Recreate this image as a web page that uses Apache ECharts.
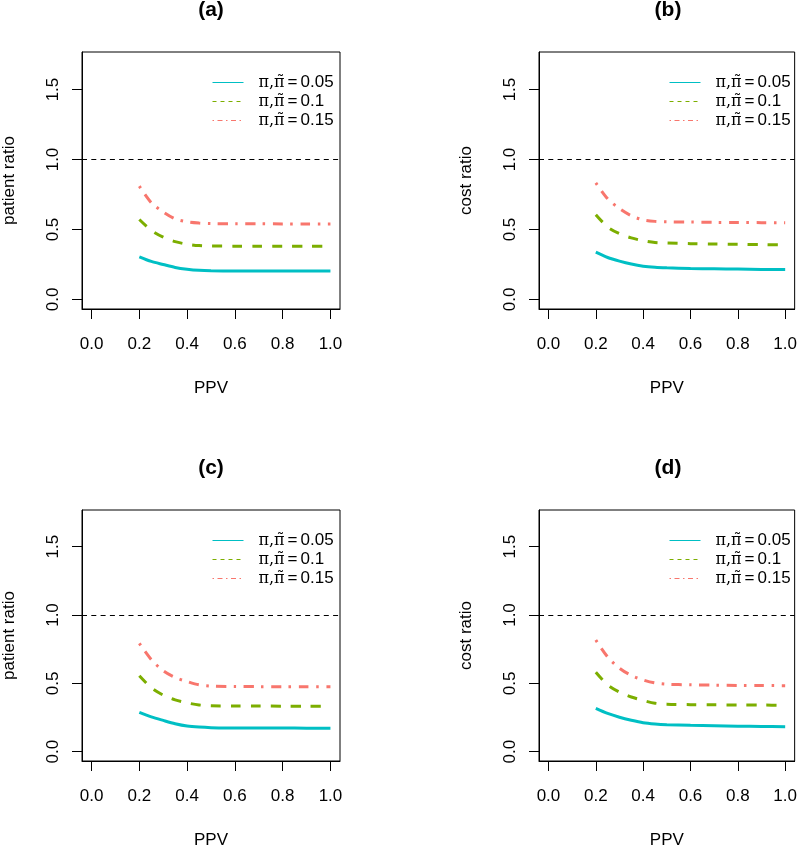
<!DOCTYPE html>
<html>
<head>
<meta charset="utf-8">
<script src="https://cdn.jsdelivr.net/npm/echarts@6/dist/echarts.min.js"></script>
<style>html,body{margin:0;padding:0;background:#fff;}#chart{width:800px;height:850px;}</style>
</head>
<body>
<div id="chart"></div>
<script>
// ---- data ----
const ppv = [0.2, 0.25, 0.3, 0.35, 0.4, 0.45, 0.5, 0.6, 0.7, 0.8, 0.9, 1.0];
const piLabels = ['0.05', '0.1', '0.15'];
const panelTitles = ['(a)', '(b)', '(c)', '(d)'];
const yNames = ['patient ratio', 'cost ratio', 'patient ratio', 'cost ratio'];
const xTicks = [0, 0.2, 0.4, 0.6, 0.8, 1.0];
const yTicks = [0, 0.5, 1.0, 1.5];
const refLine = 1.0;

const a005 = [0.305, 0.272, 0.25, 0.229, 0.216, 0.208, 0.205, 0.204, 0.204, 0.203, 0.203, 0.203];
const a010 = [0.571, 0.494, 0.445, 0.413, 0.395, 0.385, 0.382, 0.381, 0.381, 0.381, 0.381, 0.381];
const a015 = [0.81, 0.692, 0.625, 0.576, 0.555, 0.546, 0.542, 0.541, 0.541, 0.54, 0.54, 0.54];

const b005 = [0.338, 0.3, 0.274, 0.253, 0.238, 0.23, 0.226, 0.221, 0.219, 0.217, 0.215, 0.214];
const b010 = [0.605, 0.518, 0.47, 0.44, 0.42, 0.407, 0.403, 0.399, 0.396, 0.394, 0.392, 0.39];
const b015 = [0.833, 0.72, 0.649, 0.598, 0.569, 0.558, 0.555, 0.553, 0.551, 0.55, 0.549, 0.548];

const c005 = [0.288, 0.255, 0.229, 0.205, 0.188, 0.18, 0.176, 0.174, 0.173, 0.173, 0.172, 0.172];
const c010 = [0.555, 0.468, 0.414, 0.379, 0.357, 0.342, 0.336, 0.334, 0.334, 0.333, 0.333, 0.333];
const c015 = [0.793, 0.674, 0.593, 0.543, 0.513, 0.489, 0.48, 0.477, 0.476, 0.476, 0.476, 0.476];

const d005 = [0.317, 0.28, 0.252, 0.23, 0.212, 0.203, 0.198, 0.193, 0.19, 0.187, 0.185, 0.183];
const d010 = [0.581, 0.489, 0.436, 0.4, 0.375, 0.355, 0.348, 0.344, 0.343, 0.342, 0.341, 0.34];
const d015 = [0.817, 0.693, 0.611, 0.558, 0.525, 0.503, 0.494, 0.489, 0.487, 0.485, 0.484, 0.483];

const panels = [[a005, a010, a015], [b005, b010, b015], [c005, c010, c015], [d005, d010, d015]];

// ---- styles ----
const colors = ['#00BFC4', '#7CAE00', '#F8766D'];
const seriesDash = ['solid', [10, 10], [2.5, 7.5, 10, 7.5]];
const legendDash = ['solid', [4, 4], [1.5, 3.5, 5, 3.5]];
const FONT = 'Liberation Sans';
const gridPos = [
  {left: 82, top: 52}, {left: 539, top: 52},
  {left: 82, top: 510}, {left: 539, top: 510}
];
const GW = 258, GH = 257;

const names = piLabels.map(v => 'π,π̃ = ' + v);

const grid = [], xAxis = [], yAxis = [], series = [], legend = [], title = [];
panels.forEach((p, i) => {
  const g = gridPos[i];
  grid.push({left: g.left, top: g.top, width: GW, height: GH, show: true,
    borderColor: '#000', borderWidth: 1, backgroundColor: 'transparent', containLabel: false});
  xAxis.push({
    type: 'value', gridIndex: i, min: -0.04, max: 1.04,
    name: 'PPV', nameLocation: 'middle', nameGap: 71,
    nameTextStyle: {fontFamily: FONT, fontSize: 17, color: '#000'},
    axisLine: {show: true, onZero: false, lineStyle: {color: '#000', width: 1}},
    axisTick: {show: true, inside: false, length: 10, customValues: xTicks, lineStyle: {color: '#000'}},
    axisLabel: {show: true, customValues: xTicks, margin: 27, fontFamily: FONT, fontSize: 17, color: '#000',
      formatter: v => v.toFixed(1)},
    splitLine: {show: false}
  });
  yAxis.push({
    type: 'value', gridIndex: i, min: -0.068, max: 1.768,
    name: yNames[i], nameLocation: 'middle', nameGap: 64,
    nameTextStyle: {fontFamily: FONT, fontSize: 17, color: '#000'},
    axisLine: {show: true, onZero: false, lineStyle: {color: '#000', width: 1}},
    axisTick: {show: true, inside: false, length: 10, customValues: yTicks, lineStyle: {color: '#000'}},
    axisLabel: {show: true, customValues: yTicks, rotate: 90, margin: 20, fontFamily: FONT, fontSize: 17, color: '#000',
      formatter: v => v.toFixed(1)},
    splitLine: {show: false}
  });
  p.forEach((vals, k) => {
    const s = {
      type: 'line', name: names[k], xAxisIndex: i, yAxisIndex: i,
      data: ppv.map((x, j) => [x, vals[j]]),
      symbol: 'none', showSymbol: false, smooth: 0.3,
      lineStyle: {color: colors[k], width: 3, type: seriesDash[k], cap: 'butt'},
      itemStyle: {color: colors[k]},
      emphasis: {disabled: true}, silent: true
    };
    if (k === 0) {
      s.markLine = {
        silent: true, symbol: ['none', 'none'], label: {show: false},
        lineStyle: {color: '#000', width: 1, type: [5, 4.3]},
        data: [{yAxis: refLine}]
      };
    }
    series.push(s);
  });
  legend.push({
    orient: 'vertical', left: g.left + 130, top: g.top + 22, padding: 0,
    itemWidth: 31, itemHeight: 10, itemGap: 2, selectedMode: false,
    itemStyle: {opacity: 0},
    formatter: name => {
      const val = name.split(' = ')[1];
      return '{p|π,π̃}{e|=}{n|' + val + '}';
    },
    textStyle: {
      fontFamily: FONT, fontSize: 17, color: '#000', lineHeight: 17,
      rich: {
        p: {fontFamily: 'DejaVu Serif', fontSize: 16, color: '#000', padding: [0, 0, 0, 10], lineHeight: 17},
        e: {fontFamily: FONT, fontSize: 17, color: '#000', lineHeight: 17, padding: [0, 3, 0, 3]},
        n: {fontFamily: FONT, fontSize: 17, color: '#000', lineHeight: 17}
      }
    },
    data: names.map((n, k) => ({name: n, itemStyle: {opacity: 0},
      lineStyle: {width: 1, type: legendDash[k], color: colors[k], opacity: 1}}))
  });
  title.push({
    text: panelTitles[i], left: g.left + GW / 2, top: g.top - 52, textAlign: 'center', padding: 0,
    textStyle: {fontFamily: FONT, fontSize: 21, fontWeight: 'bold', color: '#000'}
  });
});

const chart = echarts.init(document.getElementById('chart'), null, {renderer: 'canvas'});
chart.setOption({
  animation: false,
  backgroundColor: '#fff',
  title, grid, xAxis, yAxis, series, legend
});
</script>
</body>
</html>
